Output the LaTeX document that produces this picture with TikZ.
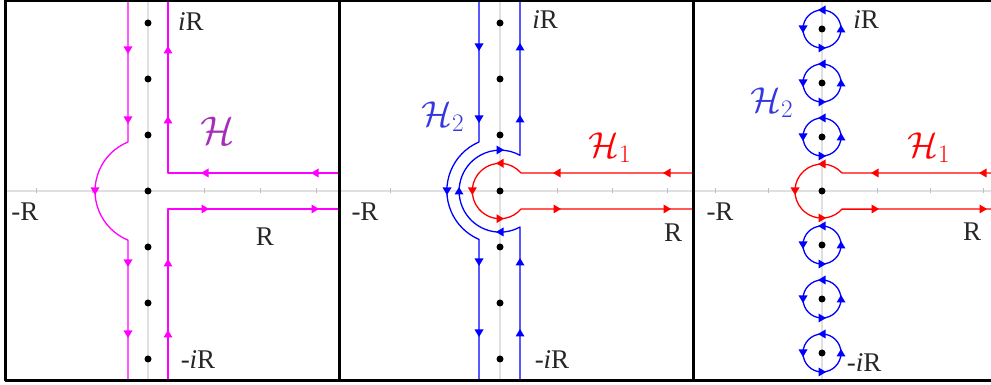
\RequirePackage{fix-cm}
\documentclass[tikz,border=0pt]{standalone}
\usepackage{amsmath,amssymb}
\usepackage{fontspec}
\setmainfont{Liberation Serif}
\usepackage{xcolor}
\usepackage{tikz}
\usetikzlibrary{arrows.meta,calc}

\definecolor{hpink}{RGB}{255,0,255}
\definecolor{hpurple}{RGB}{165,45,185}
\definecolor{hblue}{RGB}{0,0,255}
\definecolor{hbluelab}{RGB}{55,55,225}
\definecolor{hred}{RGB}{255,0,0}
\newcommand{\tipat}[3]{\fill[shift={(#1,#2)},rotate=#3] (4,0) -- (-3.5,4.5) -- (-3.5,-4.5) -- cycle;}

\begin{document}
\begin{tikzpicture}[x=1pt, y=1pt, line join=round,
  axis/.style={line width=1.6pt, black!12},
  tick/.style={line width=0.8pt, black!25},
  contour/.style={line width=1.3pt},
  frame/.style={line width=3pt, black},
  lab/.style={font=\fontsize{27}{30}\selectfont, inner sep=0pt, text=black!85},
  hlab/.style={font=\fontsize{36}{40}\selectfont, inner sep=0pt}]
  \useasboundingbox (0,0) rectangle (991,385);
  % panel 1
  \begin{scope}[shift={(148,194)}]
    \draw[axis] (-143,0) -- (191,0);
    \draw[axis] (0,-189) -- (0,190);
    \foreach \t in {-112,-56,56,112,168} \draw[tick] (\t,-2.5) -- (\t,2.5);
    \foreach \k in {-3,...,3} \fill (0,56*\k) circle (3.5);
    \begin{scope}[hpink]
      \draw[contour] (-20,190) -- (-20,49) arc[start angle=112.2, end angle=247.8, radius=53] -- (-20,-190);
      \draw[contour] (20,190) -- (20,18) -- (191,18);
      \draw[contour] (20,-190) -- (20,-18) -- (191,-18);
      \foreach \y in {141,71,-72,-143} {\tipat{-20}{\y}{270} \tipat{20}{\y}{90}}
      \foreach \x in {57,167} {\tipat{\x}{18}{180} \tipat{\x}{-18}{0}}
      \tipat{-53}{0}{270}
    \end{scope}
    \node[lab] at (43,169) {\textit{i}R};
    \node[lab] at (50,-169) {-\textit{i}R};
    \node[lab] at (-123,-21) {-R};
    \node[lab] at (117,-46) {R};
    \node[hlab, hpurple, font=\fontsize{40}{44}\selectfont] at (70,60) {$\mathcal{H}$};
  \end{scope}
  % panel 2
  \begin{scope}[shift={(500,194)}]
    \draw[axis] (-160,0) -- (193,0);
    \draw[axis] (0,-189) -- (0,190);
    \foreach \t in {-110,-55,57,112,167} \draw[tick] (\t,-2.5) -- (\t,2.5);
    \foreach \k in {-3,...,3} \fill (0,56*\k) circle (3.5);
    \begin{scope}[hblue]
      \draw[contour] (-21,190) -- (-21,49) arc[start angle=113.2, end angle=246.8, radius=53] -- (-21,-190);
      \draw[contour] (20,-190) -- (20,-36) arc[start angle=-61, end angle=-299, radius=41] -- (20,190);
      \foreach \y in {144,72,-71,-142} {\tipat{-21}{\y}{270} \tipat{20}{\y}{90}}
      \tipat{-53}{0}{270}
      \tipat{0}{41}{0}
      \tipat{-41}{0}{90}
      \tipat{0}{-41}{180}
    \end{scope}
    \begin{scope}[hred]
      \draw[contour] (193,18) -- (21,18) arc[start angle=40.6, end angle=319.4, radius=27.7] -- (193,-18);
      \foreach \x in {57,167} {\tipat{\x}{18}{180} \tipat{\x}{-18}{0}}
      \tipat{0}{27.7}{180}
      \tipat{-27.7}{0}{270}
      \tipat{0}{-27.7}{0}
    \end{scope}
    \node[lab] at (45,171) {\textit{i}R};
    \node[lab] at (52,-169) {-\textit{i}R};
    \node[lab] at (-135,-21) {-R};
    \node[lab] at (173,-42) {R};
    \node[hlab, hbluelab] at (-57,74) {$\mathcal{H}_2$};
    \node[hlab, hred] at (110,43) {$\mathcal{H}_1$};
  \end{scope}
  % panel 3
  \begin{scope}[shift={(822,194)}]
    \draw[axis] (-129,0) -- (169,0);
    \draw[axis] (0,-189) -- (0,190);
    \foreach \t in {-107,-54,55,108,161} \draw[tick] (\t,-2.5) -- (\t,2.5);
    \foreach \k in {-3,...,3} \fill (0,54*\k) circle (3.5);
    \begin{scope}[hblue]
      \foreach \k in {-3,-2,-1,1,2,3} {
        \draw[contour] (0,54*\k) circle (19);
        \tipat{0}{54*\k+19}{180}
        \tipat{-19}{54*\k}{270}
        \tipat{0}{54*\k-19}{0}
        \tipat{19}{54*\k}{90}
      }
    \end{scope}
    \begin{scope}[hred]
      \draw[contour] (169,18) -- (20,18) arc[start angle=42, end angle=318, radius=27] -- (169,-18);
      \foreach \x in {53,161} {\tipat{\x}{18}{180} \tipat{\x}{-18}{0}}
      \tipat{0}{27}{180}
      \tipat{-27}{0}{270}
      \tipat{0}{-27}{0}
    \end{scope}
    \node[lab] at (44,171) {\textit{i}R};
    \node[lab] at (42,-172) {-\textit{i}R};
    \node[lab] at (-102,-21) {-R};
    \node[lab] at (150,-41) {R};
    \node[hlab, hbluelab] at (-50,88) {$\mathcal{H}_2$};
    \node[hlab, hred] at (107,43) {$\mathcal{H}_1$};
  \end{scope}
  % frames
  \draw[frame] (991,384) -- (5,384) -- (5,4.5) -- (991,4.5);
  \draw[frame] (339,4.5) -- (339,384);
  \draw[frame] (693,4.5) -- (693,384);
\end{tikzpicture}
\end{document}
